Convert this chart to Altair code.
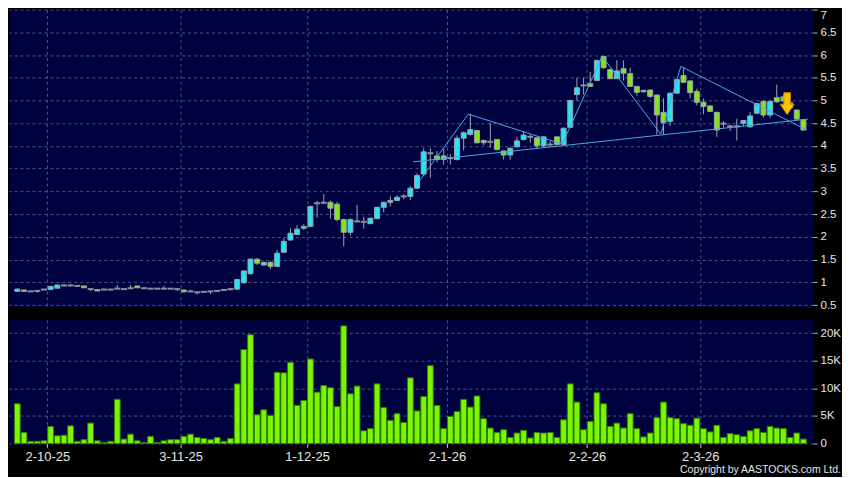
import altair as alt
import pandas as pd

# ---------------- data ----------------
opens = [
    0.80, 0.83, 0.80, 0.81, 0.84, 0.84, 0.87, 0.93, 0.93, 0.92,
    0.92, 0.85, 0.84, 0.84, 0.84, 0.86, 0.85, 0.87, 0.92, 0.87,
    0.86, 0.86, 0.86, 0.86, 0.85, 0.83, 0.80, 0.78, 0.79, 0.80,
    0.81, 0.83, 0.85, 0.85, 0.99, 1.19, 1.51, 1.38, 1.44, 1.35,
    1.66, 1.93, 2.05, 2.19, 2.23, 2.74, 2.75, 2.76, 2.72, 2.38,
    2.10, 2.34, 2.33, 2.29, 2.40, 2.65, 2.76, 2.80, 2.89, 2.89,
    3.07, 3.38, 3.84, 3.78, 3.78, 3.73, 3.70, 4.17, 4.25, 4.34,
    4.12, 4.09, 4.14, 3.89, 3.80, 3.98, 4.14, 4.20, 4.18, 4.00,
    4.03, 4.20, 4.03, 4.41, 5.13, 5.33, 5.37, 5.44, 5.97, 5.68,
    5.48, 5.70, 5.59, 5.31, 5.19, 5.23, 5.12, 4.74, 4.54, 5.16,
    5.55, 5.43, 5.20, 4.96, 4.88, 4.74, 4.49, 4.43, 4.43, 4.50,
    4.42, 4.72, 4.98, 4.68, 5.06, 5.08, 4.95, 4.79, 4.58]
closes = [
    0.85, 0.80, 0.80, 0.81, 0.84, 0.91, 0.94, 0.93, 0.93, 0.92,
    0.88, 0.85, 0.81, 0.84, 0.84, 0.86, 0.85, 0.87, 0.88, 0.87,
    0.86, 0.86, 0.86, 0.86, 0.85, 0.79, 0.80, 0.78, 0.79, 0.80,
    0.81, 0.83, 0.85, 1.06, 1.25, 1.51, 1.42, 1.44, 1.35, 1.64,
    1.90, 2.08, 2.17, 2.23, 2.67, 2.74, 2.75, 2.63, 2.38, 2.10,
    2.38, 2.34, 2.33, 2.41, 2.65, 2.76, 2.80, 2.87, 2.89, 3.07,
    3.35, 3.87, 3.84, 3.70, 3.70, 3.73, 4.17, 4.29, 4.36, 4.07,
    4.07, 4.09, 3.92, 3.80, 3.95, 4.11, 4.24, 4.20, 4.00, 4.20,
    4.03, 4.03, 4.39, 5.00, 5.28, 5.33, 5.31, 5.88, 5.72, 5.48,
    5.65, 5.60, 5.31, 5.18, 5.22, 5.09, 4.68, 4.51, 5.16, 5.46,
    5.40, 5.17, 4.96, 4.87, 4.76, 4.35, 4.49, 4.43, 4.43, 4.56,
    4.66, 4.93, 4.68, 4.98, 4.97, 4.99, 4.84, 4.59, 4.35]
highs = [
    0.87, 0.84, 0.80, 0.81, 0.84, 0.92, 0.95, 0.96, 0.96, 0.92,
    0.92, 0.85, 0.84, 0.84, 0.84, 0.94, 0.85, 0.94, 0.92, 0.88,
    0.87, 0.86, 0.92, 0.86, 0.85, 0.84, 0.84, 0.78, 0.79, 0.80,
    0.81, 0.84, 0.86, 1.08, 1.26, 1.52, 1.53, 1.46, 1.46, 1.71,
    1.97, 2.19, 2.26, 2.28, 2.68, 2.79, 2.94, 2.80, 2.77, 2.40,
    2.41, 2.70, 2.44, 2.42, 2.66, 2.77, 2.89, 2.91, 2.94, 3.11,
    3.40, 3.95, 3.95, 3.89, 3.95, 3.82, 4.23, 4.32, 4.71, 4.35,
    4.14, 4.51, 4.15, 3.90, 3.96, 4.20, 4.33, 4.25, 4.19, 4.22,
    4.10, 4.21, 4.40, 5.02, 5.50, 5.50, 5.63, 5.90, 5.98, 5.70,
    5.89, 5.88, 5.72, 5.32, 5.24, 5.24, 5.13, 5.05, 5.17, 5.47,
    5.72, 5.44, 5.26, 5.04, 4.89, 4.75, 4.55, 4.47, 4.60, 4.57,
    4.75, 4.95, 5.00, 5.00, 5.35, 5.12, 4.96, 4.80, 4.59]
lows = [
    0.79, 0.79, 0.79, 0.77, 0.83, 0.84, 0.87, 0.92, 0.91, 0.91,
    0.87, 0.80, 0.81, 0.83, 0.82, 0.85, 0.85, 0.85, 0.87, 0.86,
    0.86, 0.86, 0.85, 0.86, 0.81, 0.78, 0.79, 0.73, 0.77, 0.74,
    0.80, 0.83, 0.82, 0.84, 0.97, 1.17, 1.38, 1.36, 1.29, 1.34,
    1.64, 1.92, 2.04, 2.15, 2.22, 2.42, 2.72, 2.40, 2.34, 1.79,
    2.03, 2.32, 2.18, 2.28, 2.39, 2.54, 2.67, 2.79, 2.83, 2.81,
    3.05, 3.34, 3.30, 3.64, 3.59, 3.59, 3.68, 3.90, 4.23, 4.05,
    4.02, 3.96, 3.90, 3.70, 3.70, 3.97, 4.12, 4.07, 3.93, 3.98,
    3.99, 4.01, 4.01, 4.40, 4.99, 5.13, 5.30, 5.43, 5.70, 5.47,
    5.47, 5.44, 5.30, 5.10, 5.18, 5.05, 4.25, 4.25, 4.44, 5.15,
    5.38, 5.05, 4.89, 4.70, 4.75, 4.20, 4.40, 4.33, 4.12, 4.44,
    4.40, 4.70, 4.62, 4.62, 4.95, 4.97, 4.82, 4.55, 4.33]
volumes_k = [
    7.2, 2.0, 0.4, 0.4, 0.5, 3.1, 1.4, 1.5, 3.2, 0.4,
    0.7, 3.7, 0.5, 0.2, 0.4, 8.0, 0.8, 1.7, 0.5, 0.2,
    1.3, 0.2, 0.5, 0.7, 0.7, 1.3, 1.7, 1.1, 0.9, 0.7,
    1.1, 0.4, 0.9, 10.8, 17.0, 19.7, 5.2, 6.1, 5.1, 12.9,
    12.8, 14.7, 6.9, 7.8, 15.3, 9.3, 10.5, 10.1, 6.7, 21.3,
    9.0, 10.4, 2.3, 2.7, 10.8, 6.5, 4.2, 5.4, 3.8, 11.9,
    5.9, 8.5, 14.1, 6.9, 2.7, 4.9, 5.8, 8.0, 6.6, 8.6,
    4.5, 2.8, 2.0, 2.5, 1.1, 1.9, 2.4, 1.0, 2.0, 1.9,
    2.0, 1.1, 4.3, 10.8, 7.5, 2.5, 4.0, 9.2, 7.2, 3.1,
    3.7, 2.8, 5.4, 2.7, 1.2, 1.9, 4.7, 7.5, 4.7, 4.5,
    3.6, 3.3, 4.6, 2.7, 2.1, 3.3, 1.1, 1.8, 1.6, 1.3,
    2.3, 2.7, 2.0, 3.1, 2.8, 2.7, 1.1, 1.9, 0.8]

tick_pos = [5, 25, 44, 65, 86, 103]
tick_labels = ["2-10-25", "3-11-25", "1-12-25", "2-1-26", "2-2-26", "2-3-26"]
price_ticks = [0.5, 1, 1.5, 2, 2.5, 3, 3.5, 4, 4.5, 5, 5.5, 6, 6.5, 7]
vol_ticks = [0, 5, 10, 15, 20]

zigzag_idx = [60.6, 68.2, 82.3, 88.3, 97.1, 100.1, 119.0]
zigzag_price = [3.18, 4.70, 4.04, 5.97, 4.26, 5.75, 4.35]
support_idx = [59.9, 119.2]
support_price = [3.65, 4.59]
arrow_idx = [116.06]
arrow_price = [4.93]
copyright_text = "Copyright by AASTOCKS.com Ltd."

# ---------------- tables ----------------
n = len(opens)
dirs = ["up" if c > o else ("down" if c < o else "flat") for o, c in zip(opens, closes)]
df = pd.DataFrame({
    "xc": [i + 0.5 for i in range(n)],
    "open": opens, "close": closes, "high": highs, "low": lows,
    "lo": [min(o, c) for o, c in zip(opens, closes)],
    "hi": [max(o, c) for o, c in zip(opens, closes)],
    "dir": dirs,
    "vol": volumes_k,
})
lines_df = pd.DataFrame({
    "ix": zigzag_idx + support_idx,
    "p": zigzag_price + support_price,
    "seg": ["zig"] * len(zigzag_idx) + ["sup"] * len(support_idx),
})
arrow_df = pd.DataFrame({"ix": arrow_idx, "p": arrow_price})

# ---------------- styling ----------------
W = 806
PH = 298
VH = 124
FONT = "Liberation Sans"
GRID = "#4e5488"
LABEL = "#e6e6e6"

label_expr = " : ".join(
    f"datum.value == {p} ? '{t}'" for p, t in zip(tick_pos, tick_labels)) + " : ''"

xscale = alt.Scale(domain=[0, 119.2], nice=False, zero=False)
x_axis_top = alt.Axis(values=tick_pos, grid=True, labels=False, ticks=False,
                      domain=False, title=None, gridColor=GRID, gridDash=[3, 3])
x_axis_bottom = alt.Axis(values=tick_pos, grid=True, labelExpr=label_expr,
                         ticks=True, tickSize=4, tickColor="#bbbbbb", domain=False,
                         title=None, gridColor=GRID, gridDash=[3, 3],
                         labelColor=LABEL, labelFontSize=13, labelFont=FONT,
                         labelPadding=3, labelOverlap=False, labelFlush=False)
pscale = alt.Scale(domain=[0.46, 7.0], nice=False, zero=False)
p_axis = alt.Axis(orient="right", values=price_ticks, format="~g", grid=True,
                  gridColor=GRID, gridDash=[3, 3], domain=False, title=None,
                  tickSize=4, tickColor="#bbbbbb", labelColor=LABEL,
                  labelFontSize=11.5, labelFont=FONT, labelPadding=3,
                  labelFlush=True)
vscale = alt.Scale(domain=[0, 22.4], nice=False, zero=True)
v_axis = alt.Axis(orient="right", values=vol_ticks, grid=True,
                  labelExpr="datum.value == 0 ? '0' : datum.value + 'K'",
                  gridColor=GRID, gridDash=[3, 3], domain=False, title=None,
                  tickSize=4, tickColor="#bbbbbb", labelColor=LABEL,
                  labelFontSize=11.5, labelFont=FONT, labelPadding=3)

X = lambda f: alt.X(f, scale=xscale, axis=x_axis_top)
Y = lambda f: alt.Y(f, scale=pscale, axis=p_axis)

base = alt.Chart(df)

wicks = base.mark_rule(color="#a3a3b0", strokeWidth=1).encode(
    x=X("xc:Q"), y=Y("low:Q"), y2="high:Q")

bodies = base.transform_filter("datum.dir != 'flat'").mark_bar(
    size=5, stroke="#9aa2aa", strokeWidth=1).encode(
    x=X("xc:Q"), y=Y("lo:Q"), y2="hi:Q",
    fill=alt.Fill("dir:N", scale=alt.Scale(domain=["up", "down"],
                                           range=["#22e6f4", "#84e41e"]),
                  legend=None))

dojis = base.transform_filter("datum.dir == 'flat'").mark_tick(
    orient="horizontal", size=6, thickness=2, color="#8e8ea0", opacity=1).encode(
    x=X("xc:Q"), y=Y("close:Q"))

trend = alt.Chart(lines_df).mark_line(color="#4aa6e6", strokeWidth=1).encode(
    x=X("ix:Q"), y=Y("p:Q"), detail="seg:N")

arrow_path = "M-0.3,-1L0.3,-1L0.3,0.05L0.64,0.05L0,1L-0.64,0.05L-0.3,0.05Z"
arrow = alt.Chart(arrow_df).mark_point(
    shape=arrow_path, filled=True, fill="#f7c600", stroke="#c98a00",
    strokeWidth=1, size=480, opacity=1).encode(x=X("ix:Q"), y=Y("p:Q"))

price = alt.layer(wicks, bodies, dojis, trend, arrow).properties(width=W, height=PH)

vol_bars = base.mark_bar(size=5.8, fill="#7cf500", stroke="#2f7d00",
                         strokeWidth=1).encode(
    x=alt.X("xc:Q", scale=xscale, axis=x_axis_bottom),
    y=alt.Y("vol:Q", scale=vscale, axis=v_axis))

copyright = alt.Chart(pd.DataFrame({"t": [copyright_text]})).mark_text(
    align="right", baseline="middle", color=LABEL, fontSize=10.5, font=FONT).encode(
    x=alt.value(W + 28), y=alt.value(VH + 27), text="t:N")

volume = alt.layer(vol_bars, copyright).properties(width=W, height=VH)

chart = alt.vconcat(price, volume, spacing=13, bounds="flush").properties(
    padding={"left": 0, "right": 0, "top": 0, "bottom": 0},
    background="#000000",
).configure_view(fill="#000240", stroke="transparent")

chart.save("out.html", embed_options={"renderer": "svg", "actions": False})
